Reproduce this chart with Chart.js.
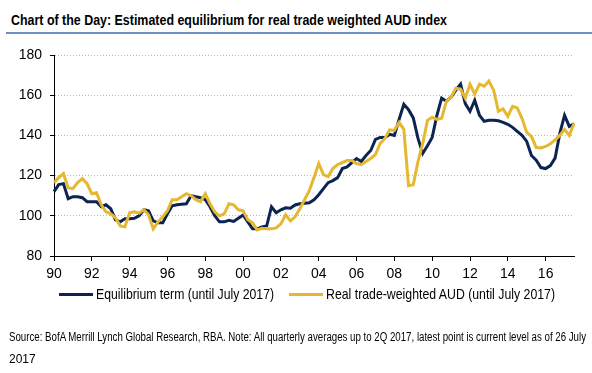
<!DOCTYPE html>
<html>
<head>
<meta charset="utf-8">
<script src="https://cdn.jsdelivr.net/npm/chart.js@4.4.1/dist/chart.umd.min.js"></script>
<style>
body { margin: 0; width: 592px; height: 373px; background: #fff; position: relative; overflow: hidden;
       font-family: 'Liberation Sans Narrow', 'Arial Narrow', 'Liberation Sans', Arial, sans-serif; color: #000; }
.fit { position: absolute; white-space: nowrap; transform-origin: 0 0; }
#title { left: 11px; top: 11px; font-size: 15px; font-weight: bold; }
#rule { position: absolute; left: 6px; right: 0; top: 32px; height: 2px; background: #6f8ec1; }
#wrap { position: absolute; left: 0; top: 0; width: 592px; height: 373px; }
.legline { position: absolute; top: 293px; width: 34px; height: 3px; }
.legtext { top: 285px; font-size: 15px; }
.source { left: 9px; font-size: 12px; }
</style>
</head>
<body>
<div id="title" class="fit" data-w="436">Chart of the Day: Estimated equilibrium for real trade weighted AUD index</div>
<div id="rule"></div>
<div id="wrap"><canvas id="myChart" width="592" height="373"></canvas></div>
<div id="leg0line" class="legline" style="left:59px"></div>
<div id="leg0" class="fit legtext" style="left:96px" data-w="178"></div>
<div id="leg1line" class="legline" style="left:289px"></div>
<div id="leg1" class="fit legtext" style="left:326px" data-w="229"></div>
<div class="fit source" style="top:330px" data-w="577">Source: BofA Merrill Lynch Global Research, RBA. Note: All quarterly averages up to 2Q 2017, latest point is current level as of 26 July</div>
<div class="fit source" style="top:352px">2017</div>
<script>
// quarterly categories 1990Q1 .. 2017Q2, plus latest point (26 July 2017)
var quarters = [];
for (var yr = 1990; yr <= 2017; yr++) {
    for (var q = 1; q <= 4; q++) quarters.push(yr + 'Q' + q);
}
quarters = quarters.slice(0, 110);
quarters.push('26 Jul 2017');

var tickYears = [1990, 1992, 1994, 1996, 1998, 2000, 2002, 2004, 2006, 2008, 2010, 2012, 2014, 2016];
var tickLabels = ['90', '92', '94', '96', '98', '00', '02', '04', '06', '08', '10', '12', '14', '16'];

var seriesNames = ['Equilibrium term (until July 2017)', 'Real trade-weighted AUD (until July 2017)'];

var equilibrium = [
    112, 115.5, 116, 108.5, 109.5, 109.5, 109, 107, 107, 107,
    104.5, 105.5, 103.5, 98, 97, 98.5, 98.5, 98.8, 100, 103,
    102.5, 97.5, 96.5, 96.5, 101, 105, 105.5, 105.8, 106, 110,
    109.5, 109, 108, 104.5, 100, 97, 97, 97.8, 97.2, 98.8,
    100.4, 97, 93.5, 93.5, 94.5, 95, 104.5, 101.5, 103, 104,
    103.8, 105.4, 106, 106.2, 106.5, 108, 110.5, 113.5, 116.5, 117.5,
    119, 123.5, 124.3, 126.5, 128.5, 127, 130, 132.5, 138, 139,
    139, 140.5, 140, 148, 155.5, 152.8, 148.7, 138.5, 131, 134.8,
    139, 150, 158.5, 157, 159, 162.5, 165.5, 155.8, 152, 157.5,
    150, 147, 147.5, 147.5, 147.3, 146.5, 145.5, 144, 142, 140,
    137, 130, 127.7, 124, 123.5, 125, 128.7, 141, 150, 144.5,
    145.7
];

var realTwi = [
    116.5, 119, 121, 114, 113.5, 116.5, 118.5, 116, 111, 111.5,
    105.5, 102, 101, 99, 95, 94.5, 101.5, 102, 101.3, 103,
    100.5, 93.5, 97, 99.5, 102.5, 108, 108, 109.5, 111, 110,
    108, 107, 111, 106, 102, 100, 101, 106, 105.5, 103,
    102.5, 98, 96.5, 93, 93.8, 93.5, 93.5, 94, 96, 100.5,
    97.5, 99.5, 103.5, 108, 112.5, 119, 126, 120.5, 119.5, 123.5,
    125.5, 126.5, 127.5, 127.5, 126, 125.4, 127, 128.5, 130.5, 136,
    138.5, 142.8, 142.5, 146.5, 143, 115, 115.5, 127, 136, 147.5,
    149, 148, 148.5, 157, 159, 163.5, 163, 158.5, 165.5, 160.5,
    165.5, 164.5, 167, 162.5, 152, 153.2, 149.5, 154.5, 153.7, 148.5,
    141.5, 139.5, 134, 133.8, 134.5, 135.8, 137.8, 140, 143, 140,
    146
];

var navy = '#0d2452';
var gold = '#e4b930';
var font = "'Liberation Sans Narrow', 'Arial Narrow', 'Liberation Sans', Arial, sans-serif";

var tickIdx = tickYears.map(function (y) { return quarters.indexOf(y + 'Q1'); });

// legend built in html
document.getElementById('leg0').textContent = seriesNames[0];
document.getElementById('leg1').textContent = seriesNames[1];
document.getElementById('leg0line').style.background = navy;
document.getElementById('leg1line').style.background = gold;

// squeeze the text to the narrow width of the original font
document.querySelectorAll('.fit[data-w]').forEach(function (el) {
    var w = el.getBoundingClientRect().width;
    el.style.transform = 'scaleX(' + (+el.dataset.w / w) + ')';
});

var ctx = document.getElementById('myChart').getContext('2d');
var myChart = new Chart(ctx, {
    type: 'line',
    data: {
        labels: quarters,
        datasets: [{
            label: seriesNames[0],
            data: equilibrium,
            borderColor: navy,
            backgroundColor: navy,
            borderWidth: 3,
            pointRadius: 0,
            fill: false,
            order: 1
        }, {
            label: seriesNames[1],
            data: realTwi,
            borderColor: gold,
            backgroundColor: gold,
            borderWidth: 3,
            pointRadius: 0,
            fill: false,
            order: 0
        }]
    },
    options: {
        responsive: false,
        animation: false,
        layout: {
            padding: { left: 0, right: 18, top: 55, bottom: 89 }
        },
        scales: {
            x: {
                offset: false,
                afterBuildTicks: function (scale) {
                    scale.ticks = tickIdx.map(function (i) { return { value: i }; });
                },
                afterFit: function (scale) { scale.height = 28; },
                ticks: {
                    autoSkip: false,
                    maxRotation: 0,
                    padding: 5,
                    color: '#000',
                    font: { family: font, size: 14 },
                    callback: function (value) {
                        return tickLabels[tickIdx.indexOf(value)];
                    }
                },
                grid: {
                    drawOnChartArea: false,
                    drawTicks: true,
                    tickLength: 5,
                    tickColor: '#000'
                },
                border: { color: '#000', width: 1 }
            },
            y: {
                min: 80,
                max: 180,
                afterFit: function (scale) { scale.width = 54; },
                ticks: {
                    stepSize: 20,
                    padding: 8,
                    color: '#000',
                    font: { family: font, size: 14 }
                },
                grid: {
                    color: '#b8b8b8',
                    lineWidth: 1,
                    drawTicks: true,
                    tickLength: 4,
                    tickColor: '#000'
                },
                border: { color: '#000', width: 1, dash: [1, 2] }
            }
        },
        plugins: {
            legend: { display: false },
            tooltip: { enabled: false }
        }
    }
});
</script>
</body>
</html>
